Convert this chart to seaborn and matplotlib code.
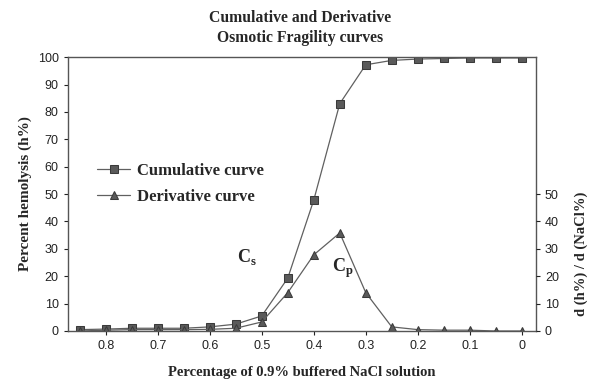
import pandas as pd
import matplotlib.pyplot as plt
import seaborn as sns

# NaCl concentration (% of 0.9% buffered solution)
nacl = [0.85, 0.80, 0.75, 0.70, 0.65, 0.60, 0.55, 0.50, 0.45,
        0.40, 0.35, 0.30, 0.25, 0.20, 0.15, 0.10, 0.05, 0.00]
cumulative = [0.5, 0.7, 1.0, 1.0, 1.0, 1.5, 2.5, 5.5, 19.3,
              47.8, 83.0, 97.2, 98.8, 99.3, 99.5, 99.7, 99.7, 99.7]
derivative = [0.0, 0.3, 0.5, 0.5, 0.5, 0.6, 1.0, 3.3, 14.0,
              27.8, 35.8, 14.0, 1.5, 0.5, 0.3, 0.3, 0.0, 0.0]

df = pd.DataFrame({'NaCl': nacl, 'Cumulative': cumulative, 'Derivative': derivative})

sns.set_style('ticks')
serif = ['Liberation Serif', 'DejaVu Serif']
sans = ['Liberation Sans', 'DejaVu Sans']
plt.rcParams['font.family'] = sans

fig = plt.figure(figsize=(6, 3.86), dpi=100)
ax = fig.add_axes([0.113, 0.1425, 0.78, 0.7095])

line_kw = dict(color='#606060', linewidth=0.9, markeredgecolor='#3a3a3a',
               markerfacecolor='#5a5a5a', ax=ax)
sns.lineplot(data=df, x='NaCl', y='Cumulative', marker='s', markersize=5.2,
             label='Cumulative curve', **line_kw)
sns.lineplot(data=df, x='NaCl', y='Derivative', marker='^', markersize=5.8,
             label='Derivative curve', **line_kw)

ax.set_xlim(0.873, -0.027)
ax.set_ylim(0, 100)
ax.set_xticks([0.8, 0.7, 0.6, 0.5, 0.4, 0.3, 0.2, 0.1, 0.0])
ax.set_xticklabels(['0.8', '0.7', '0.6', '0.5', '0.4', '0.3', '0.2', '0.1', '0'])
ax.set_yticks(range(0, 101, 10))
ax.tick_params(labelsize=9, length=3, width=0.8, colors='#222222')
for s in ax.spines.values():
    s.set_color('#555555')
    s.set_linewidth(1.0)

ax.set_xlabel('Percentage of 0.9% buffered NaCl solution', family=serif,
              fontweight='bold', fontsize=10.5, labelpad=10)
ax.set_ylabel('Percent hemolysis (h%)', family=serif, fontweight='bold',
              fontsize=11, labelpad=4)

ax2 = ax.twinx()
ax2.set_ylim(0, 100)
ax2.set_yticks(range(0, 51, 10))
ax2.tick_params(labelsize=9, length=3, width=0.8, colors='#222222')
for s in ax2.spines.values():
    s.set_visible(False)
fig.text(0.968, 0.342, 'd (h%) / d (NaCl%)', rotation=90, family=serif,
         fontweight='bold', fontsize=10.5, ha='center', va='center')

fig.text(0.5, 0.953, 'Cumulative and Derivative', family=serif,
         fontweight='bold', fontsize=11.3, ha='center', va='center')
fig.text(0.5, 0.901, 'Osmotic Fragility curves', family=serif,
         fontweight='bold', fontsize=11.3, ha='center', va='center')

ax.text(0.529, 27, r'C$_\mathregular{s}$', family=serif, fontweight='bold',
        fontsize=13, ha='center', va='center')
ax.text(0.345, 23, r'C$_\mathregular{p}$', family=serif, fontweight='bold',
        fontsize=13, ha='center', va='center')

leg = ax.legend(loc='upper left', bbox_to_anchor=(0.03, 0.67), frameon=False,
                prop={'family': serif, 'weight': 'bold', 'size': 12},
                handlelength=2.0, handletextpad=0.4, labelspacing=0.6)

fig.savefig('out.png', dpi=100)
